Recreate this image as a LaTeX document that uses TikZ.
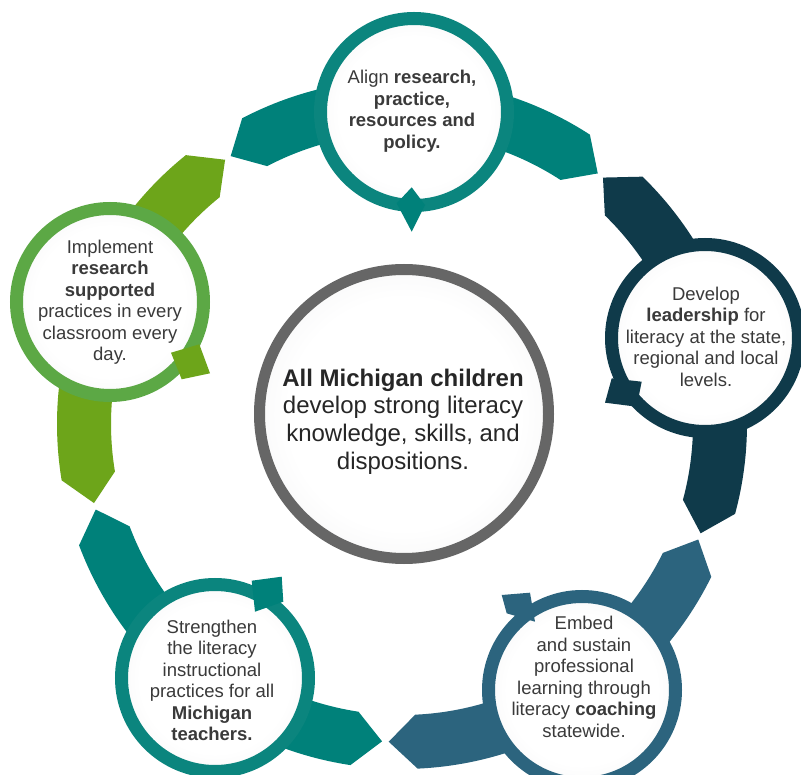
\documentclass[tikz,border=0pt]{standalone}
\usepackage{fontspec}
\setmainfont{Liberation Sans}
\definecolor{teal1}{HTML}{00817A}
\definecolor{tealring}{HTML}{0B857E}
\definecolor{navy}{HTML}{0F3A4A}
\definecolor{steel}{HTML}{2C647E}
\definecolor{olive}{HTML}{6DA51A}
\definecolor{greenring}{HTML}{5CA845}
\definecolor{ringgray}{HTML}{666666}
\definecolor{txt}{HTML}{3A3A3A}
\definecolor{midtxtc}{HTML}{262626}
\definecolor{discgray}{HTML}{E0E0E2}
\pgfdeclareradialshading{discshade}{\pgfpoint{0bp}{0bp}}{color(0bp)=(white);color(20bp)=(white);color(50bp)=(discgray)}
\newcommand\bandpiece[3]{%
  \fill[#1] ({#2-5}:345) arc[start angle={#2-5}, end angle={#3+5}, radius=345]
    -- (#3:318) -- ({#3+5}:291) arc[start angle={#3+5}, end angle={#2-5}, radius=291]
    -- (#2:318) -- cycle;}
\tikzset{
  discfill/.style={shading=discshade},
  smalltxt/.style={align=center, text=txt, inner sep=0pt, font=\fontsize{18.5}{21.5}\selectfont},
  bigtxt/.style={align=center, text=midtxtc, inner sep=0pt, font=\fontsize{24}{27.7}\selectfont}
}
\begin{document}
\begin{tikzpicture}[x=1pt,y=1pt]
\useasboundingbox (0,0) rectangle (801,-775);
\fill[white] (0,0) rectangle (801,-775);
% ring bands
\begin{scope}[shift={(402,-424)}]
  \bandpiece{teal1}{122.6}{52.0}
  \bandpiece{navy}{50.8}{-20.1}
  \bandpiece{steel}{-21.3}{-92.4}
  \bandpiece{teal1}{-93.6}{-164.4}
  \bandpiece{olive}{194.4}{123.8}
\end{scope}
% centres
\coordinate (ctop) at (414,-112);
\coordinate (cright) at (705,-338);
\coordinate (cbr) at (582,-690);
\coordinate (cbl) at (215,-678);
\coordinate (cleft) at (110,-302);
\coordinate (cmid) at (404,-414);
% discs
\path[discfill] (ctop) circle[radius=94];
\draw[tealring, line width=13pt] (ctop) circle[radius=93.5];
\path[discfill] (cright) circle[radius=94];
\draw[navy, line width=13pt] (cright) circle[radius=93.5];
\path[discfill] (cbr) circle[radius=94];
\draw[steel, line width=13pt] (cbr) circle[radius=93.5];
\path[discfill] (cbl) circle[radius=94];
\draw[tealring, line width=13pt] (cbl) circle[radius=93.5];
\path[discfill] (cleft) circle[radius=94];
\draw[greenring, line width=13pt] (cleft) circle[radius=93.5];
\path[discfill] (cmid) circle[radius=145];
\draw[ringgray, line width=11pt] (cmid) circle[radius=144.5];
% markers
\fill[teal1] (411.7,-187.3) -- (425,-205) -- (411.7,-231.7) -- (396.7,-203.3) -- cycle;
\fill[navy] (611.7,-378.3) -- (641.7,-381.7) -- (636.7,-406.7) -- (605,-402.7) -- cycle;
\fill[steel] (501.7,-595) -- (530,-592.7) -- (535,-621.7) -- (506.7,-613.3) -- cycle;
\fill[teal1] (251.7,-580.7) -- (281.7,-576.7) -- (283.3,-601.7) -- (255,-611.7) -- cycle;
\fill[olive] (171,-352.7) -- (199.3,-344.3) -- (210,-373.3) -- (181.7,-379.3) -- cycle;
% texts
\node[smalltxt] (ttop) at (412,-111) {Align \textbf{research,}\\\textbf{practice,}\\\textbf{resources and}\\\textbf{policy.}};
\node[smalltxt] (tright) at (706,-336.5) {Develop\\\textbf{leadership} for\\literacy at the state,\\regional and local\\levels.};
\node[smalltxt] (tbr) at (584,-677) {Embed\\and sustain\\professional\\learning through\\literacy \textbf{coaching}\\statewide.};
\node[smalltxt] (tbl) at (212,-680.5) {Strengthen\\the literacy\\instructional\\practices for all\\\textbf{Michigan}\\\textbf{teachers.}};
\node[smalltxt] (tleft) at (110,-302) {Implement\\\textbf{research}\\\textbf{supported}\\practices in every\\classroom every\\day.};
\node[bigtxt] (tmid) at (403,-421.5) {\textbf{All Michigan children}\\develop strong literacy\\knowledge, skills, and\\dispositions.};
\end{tikzpicture}
\end{document}
